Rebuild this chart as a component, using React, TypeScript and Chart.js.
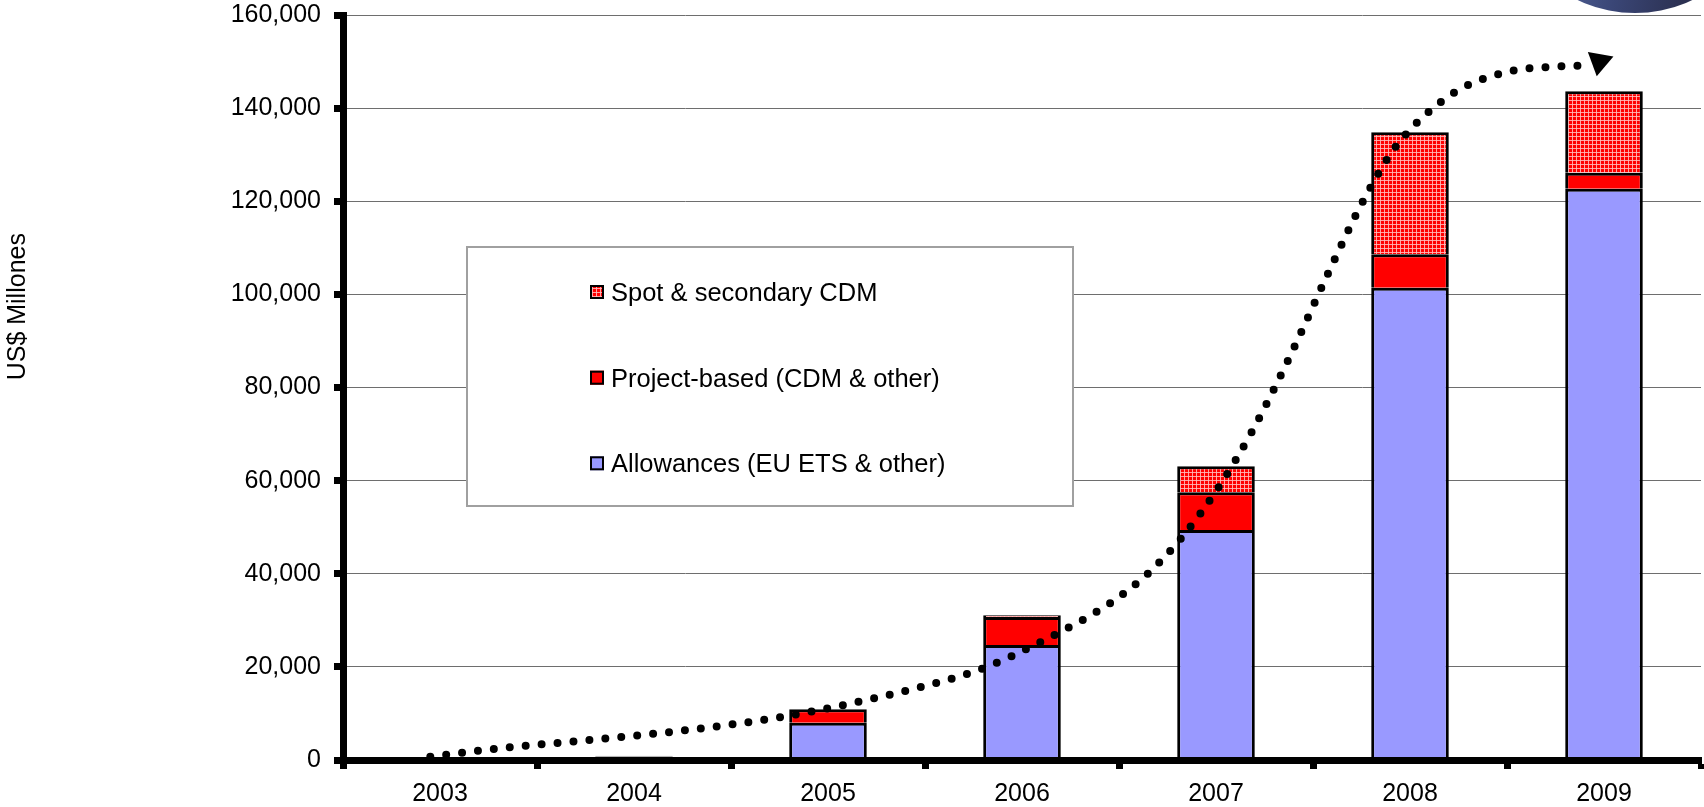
import React, { useEffect, useRef } from "react";
import { Chart, registerables } from "chart.js";

Chart.register(...registerables);

// ---------- data ----------
const years = ["2003", "2004", "2005", "2006", "2007", "2008", "2009"];
const allowances = [0, 900, 8000, 24700, 49400, 101400, 122700];
const projectBased = [0, 0, 2900, 6000, 8100, 7200, 3400];
const spotSecondary = [0, 0, 0, 400, 5600, 26200, 17500];
const seriesLabels = [
  "Allowances (EU ETS & other)",
  "Project-based (CDM & other)",
  "Spot & secondary CDM",
];
// dotted trend curve (x = category position, 0 = 2003)
const trendX = [-0.05, 0.28, 0.775, 1.268, 1.758, 2.079, 2.481, 2.8, 3.094, 3.455, 3.653, 3.822, 4.017, 4.185, 4.371, 4.579, 4.76, 4.93, 5.161, 5.302, 5.538, 5.703, 5.868];
const trendY = [700, 2400, 4300, 6400, 9200, 11800, 15700, 19700, 25300, 33700, 40200, 47700, 58800, 70500, 85800, 104600, 120200, 131900, 141400, 145000, 148100, 148800, 149100];
const arrowX = [5.976];
const arrowY = [150000];
const yMin = 0;
const yMax = 160000;
const yStep = 20000;
const yAxisTitle = "US$ Millones";

const FONT = '"Liberation Sans", Arial, Helvetica, sans-serif';

function makeSpotPattern(ctx: CanvasRenderingContext2D) {
  const tile = document.createElement("canvas");
  tile.width = 4;
  tile.height = 4;
  const g = tile.getContext("2d")!;
  g.fillStyle = "#ff0000";
  g.fillRect(0, 0, 4, 4);
  g.fillStyle = "rgba(255,190,190,0.85)";
  g.fillRect(0, 0, 4, 1);
  g.fillRect(0, 0, 1, 4);
  return ctx.createPattern(tile, "repeat") as CanvasPattern;
}

const overlayPlugin = {
  id: "overlayPlugin",
  afterDraw(chart: any) {
    const ctx: CanvasRenderingContext2D = chart.ctx;
    ctx.save();
    // legend box
    const bx = 467, by = 247, bw = 606, bh = 259;
    ctx.fillStyle = "#ffffff";
    ctx.fillRect(bx, by, bw, bh);
    ctx.strokeStyle = "#a0a0a0";
    ctx.lineWidth = 2;
    ctx.strokeRect(bx, by, bw, bh);
    const bars = chart.data.datasets.filter((d: any) => d.isBar);
    const order = [2, 1, 0];
    const baselines = [301, 386.7, 472.3];
    ctx.font = `25.5px ${FONT}`;
    ctx.textBaseline = "alphabetic";
    ctx.textAlign = "left";
    order.forEach((k, i) => {
      const ds = bars[k];
      const b = baselines[i];
      ctx.fillStyle = ds.backgroundColor;
      ctx.fillRect(590, b - 16, 14, 14);
      ctx.strokeStyle = "#000";
      ctx.lineWidth = 2;
      ctx.strokeRect(591, b - 15, 12, 12);
      ctx.fillStyle = "#000";
      ctx.fillText(ds.label, 611, b);
    });
    // y axis title
    ctx.font = `25px ${FONT}`;
    ctx.translate(25, 306.7);
    ctx.rotate(-Math.PI / 2);
    ctx.textAlign = "center";
    ctx.fillStyle = "#000";
    ctx.fillText(yAxisTitle, 0, 0);
    ctx.restore();
  },
};

export default function App() {
  const ref = useRef<HTMLCanvasElement>(null);

  useEffect(() => {
    const canvas = ref.current!;
    const ctx = canvas.getContext("2d")!;
    const spotFill = makeSpotPattern(ctx);
    const totals = years.map((_, i) => allowances[i] + projectBased[i] + spotSecondary[i]);
    const barBorder = (c: any) => (totals[c.dataIndex] < 1000 ? "#b4b4b4" : "#000000");

    const barCommon = {
      type: "bar",
      isBar: true,
      borderColor: barBorder,
      borderWidth: 3,
      borderSkipped: "start",
      barPercentage: 0.4,
      categoryPercentage: 1,
      grouped: false,
      xAxisID: "x",
      yAxisID: "y",
      stack: "bars",
    };

    const chart = new Chart(ctx, {
      type: "bar",
      data: {
        labels: years,
        datasets: [
          {
            ...barCommon,
            label: seriesLabels[0],
            data: allowances,
            backgroundColor: "#9999ff",
          },
          {
            ...barCommon,
            label: seriesLabels[1],
            data: projectBased,
            backgroundColor: "#ff0000",
          },
          {
            ...barCommon,
            label: seriesLabels[2],
            data: spotSecondary,
            backgroundColor: spotFill,
          },
          {
            type: "line",
            label: "trend",
            data: trendX.map((x, i) => ({ x, y: trendY[i] })),
            xAxisID: "xTrend",
            yAxisID: "y",
            stack: "trend",
            borderColor: "#000",
            borderWidth: 8,
            borderDash: [0, 16],
            borderCapStyle: "round",
            pointRadius: 0,
            fill: false,
            cubicInterpolationMode: "monotone",
            order: -1,
          },
          {
            type: "line",
            label: "arrow",
            data: arrowX.map((x, i) => ({ x, y: arrowY[i] })),
            xAxisID: "xTrend",
            yAxisID: "y",
            stack: "arrow",
            showLine: false,
            pointStyle: "triangle",
            pointRadius: 15,
            pointRotation: 190,
            pointBackgroundColor: "#000",
            pointBorderColor: "#000",
            pointBorderWidth: 0,
            order: -2,
          },
        ] as any,
      },
      options: {
        responsive: false,
        animation: false,
        devicePixelRatio: 1,
        layout: { autoPadding: false, padding: { top: 0, right: 3, left: 0, bottom: 0 } },
        plugins: {
          legend: { display: false },
          tooltip: { enabled: false },
          title: { display: false },
        },
        scales: {
          x: {
            type: "category",
            stacked: true,
            offset: true,
            grid: {
              display: true,
              drawOnChartArea: false,
              drawTicks: true,
              tickLength: 9,
              tickWidth: 7,
              tickColor: "#000",
              offset: true,
            },
            border: { display: true, color: "#000", width: 7, z: 1 },
            ticks: {
              color: "#000",
              font: { family: FONT, size: 25 },
              padding: 10,
              maxRotation: 0,
              autoSkip: false,
            },
            afterFit: (s: any) => {
              s.height = 47;
              s.paddingLeft = 0;
              s.paddingRight = 0;
            },
          },
          xTrend: {
            type: "linear",
            display: false,
            min: -0.5,
            max: 6.5,
            offset: false,
          },
          y: {
            stacked: true,
            min: yMin,
            max: yMax,
            ticks: {
              stepSize: yStep,
              color: "#000",
              font: { family: FONT, size: 25 },
              padding: 13,
              callback: (v: any) => Number(v).toLocaleString("en-US"),
            },
            grid: {
              color: "#6e6e6e",
              lineWidth: 1,
              drawTicks: true,
              tickLength: 9,
              tickWidth: 7,
              tickColor: "#000",
            },
            border: { display: true, color: "#000", width: 7, z: 1 },
            afterFit: (s: any) => {
              s.width = 343;
              s.paddingTop = 15;
              s.paddingBottom = 0;
            },
          },
        },
      } as any,
      plugins: [overlayPlugin],
    });

    return () => chart.destroy();
  }, []);

  return (
    <div
      style={{
        position: "absolute",
        left: 0,
        top: 0,
        width: 1704,
        height: 807,
        overflow: "hidden",
        background: "#fff",
      }}
    >
      <canvas ref={ref} width={1704} height={807} style={{ display: "block" }} />
      <div
        style={{
          position: "absolute",
          left: 1502,
          top: -253,
          width: 266,
          height: 266,
          borderRadius: "50%",
          background: "linear-gradient(100deg, #5a6ca2 0%, #52649a 28%, #3a4676 50%, #2c3152 72%, #262a45 100%)",
        }}
      />
    </div>
  );
}
